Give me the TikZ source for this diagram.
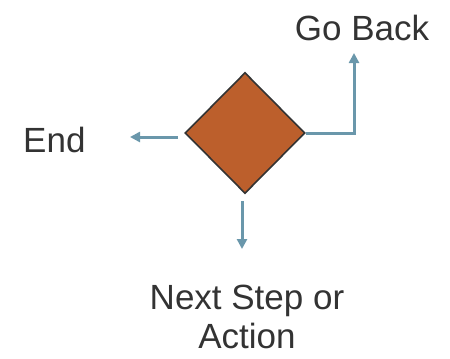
\documentclass[tikz,border=0pt]{standalone}
\usepackage{fontspec}
\setmainfont{Liberation Sans}
\usetikzlibrary{arrows.meta,shapes.geometric}
\definecolor{dia}{HTML}{BC5F2C}
\definecolor{arr}{HTML}{6A97AB}
\definecolor{txt}{HTML}{333333}
\tikzset{
  lbl/.style={text=txt, font=\fontsize{35bp}{40bp}\selectfont, inner sep=0pt, align=center},
  conn/.style={draw=arr, line width=3bp, -{Triangle[width=10bp,length=10bp]}},
}
\begin{document}
\begin{tikzpicture}[x=1bp,y=-1bp]
\useasboundingbox (0,0) rectangle (450,358);
\node[diamond, draw=txt, line width=1.6bp, fill=dia, minimum width=120bp, minimum height=121bp, inner sep=0pt] (d) at (245,133) {};
\node[lbl, anchor=base] (gb) at (362,40) {Go Back};
\node[lbl, anchor=base west] (end) at (23,152) {End};
\node[lbl, anchor=base] (next) at (247,309) {Next Step or};
\node[lbl, anchor=base] (act) at (247,348) {Action};
\coordinate (ls) at (178,137);
\coordinate (le) at (130,137);
\coordinate (bs) at (242,201);
\coordinate (be) at (242,249);
\coordinate (rc) at (354,133);
\coordinate (re) at (354,53);
\draw[conn] (ls) -- (le);
\draw[conn] (bs) -- (be);
\draw[conn] (d.east) -- (rc) -- (re);
\end{tikzpicture}
\end{document}
